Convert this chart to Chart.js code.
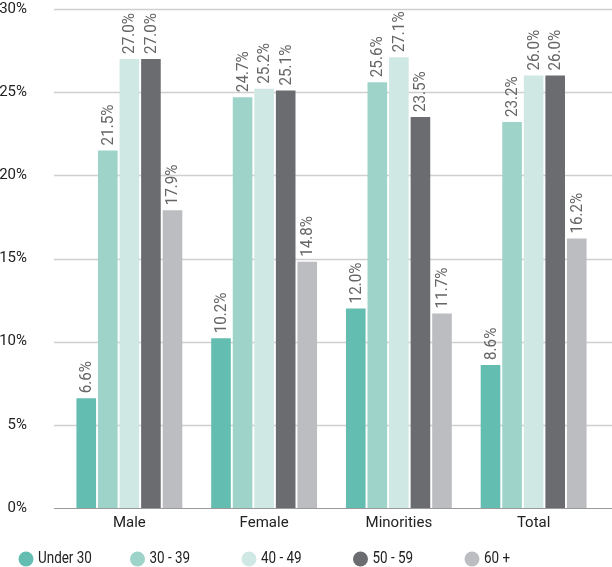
<!DOCTYPE html>
<html>
<head>
<meta charset="utf-8">
<script src="https://cdn.jsdelivr.net/npm/chart.js@4"></script>
<style>
  html, body { margin: 0; padding: 0; background: #fff; }
  #wrap { width: 612px; height: 567px; }
</style>
</head>
<body>
<div id="wrap"><canvas id="myBarChart"></canvas></div>
<script>
const categories = ['Male', 'Female', 'Minorities', 'Total'];
const seriesNames = ['Under 30', '30 - 39', '40 - 49', '50 - 59', '60 +'];
const under30 = [6.6, 10.2, 12.0, 8.6];
const age30to39 = [21.5, 24.7, 25.6, 23.2];
const age40to49 = [27.0, 25.2, 27.1, 26.0];
const age50to59 = [27.0, 25.1, 23.5, 26.0];
const age60plus = [17.9, 14.8, 11.7, 16.2];
const yTicks = [0, 5, 10, 15, 20, 25, 30];

const colors = ['#63bdb0', '#9dd3c8', '#cfe8e3', '#6b6c70', '#bcbdc1'];
const FONT = 'Roboto, sans-serif';

const values = [under30, age30to39, age40to49, age50to59, age60plus];

// grid lines run a bit wider than the bars area
const gridPlugin = {
    id: 'wideGrid',
    beforeDatasetsDraw(chart) {
        const ctx = chart.ctx;
        const y = chart.scales.y;
        ctx.save();
        yTicks.forEach(t => {
            const py = Math.round(y.getPixelForValue(t)) + 0.5;
            ctx.strokeStyle = t === 0 ? '#9a9a9a' : '#cfcfcf';
            ctx.lineWidth = t === 0 ? 1 : 1.5;
            ctx.beginPath();
            ctx.moveTo(54, py);
            ctx.lineTo(chart.width, py);
            ctx.stroke();
        });
        ctx.restore();
    }
};

// value labels, rotated, above each bar
const labelPlugin = {
    id: 'barLabels',
    afterDatasetsDraw(chart) {
        const ctx = chart.ctx;
        ctx.save();
        ctx.font = '16px ' + FONT;
        ctx.fillStyle = '#666666';
        ctx.textAlign = 'left';
        ctx.textBaseline = 'middle';
        chart.data.datasets.forEach((ds, i) => {
            chart.getDatasetMeta(i).data.forEach((bar, j) => {
                ctx.save();
                ctx.translate(bar.x + 1, bar.y - 5);
                ctx.rotate(-Math.PI / 2);
                ctx.scale(0.95, 1);
                ctx.fillText(ds.data[j].toFixed(1) + '%', 0, 0);
                ctx.restore();
            });
        });
        ctx.restore();
    }
};

// legend row along the bottom, circles + narrow text
const legendPlugin = {
    id: 'bottomLegend',
    afterDraw(chart) {
        const ctx = chart.ctx;
        const cy = chart.height - 8;
        ctx.save();
        ctx.font = '16px ' + FONT;
        ctx.textBaseline = 'middle';
        chart.data.datasets.forEach((ds, i) => {
            const cx = 26 + i * 111.5;
            ctx.fillStyle = ds.backgroundColor;
            ctx.beginPath();
            ctx.arc(cx, cy, 7.5, 0, Math.PI * 2);
            ctx.fill();
            ctx.fillStyle = '#222';
            ctx.save();
            ctx.translate(cx + 12, cy);
            ctx.scale(0.84, 1);
            ctx.fillText(ds.label, 0, 0);
            ctx.restore();
        });
        ctx.restore();
    }
};

const data = {
    labels: categories,
    datasets: seriesNames.map((name, i) => ({
        label: name,
        data: values[i],
        backgroundColor: colors[i],
        categoryPercentage: 0.8,
        barPercentage: 0.91
    }))
};

const config = {
    type: 'bar',
    data: data,
    options: {
        responsive: true,
        maintainAspectRatio: false,
        animation: false,
        layout: { padding: { top: 0, right: 11, left: 0, bottom: 29 } },
        scales: {
            x: {
                grid: { display: false, drawTicks: false },
                border: { display: false },
                ticks: { color: '#222', font: { family: FONT, size: 15 }, padding: 6 }
            },
            y: {
                min: 0,
                max: 30,
                afterFit(scale) { scale.width = 62; },
                afterBuildTicks(scale) { scale.ticks = yTicks.map(v => ({ value: v })); },
                grid: { display: false, drawTicks: true, tickLength: 35 },
                border: { display: false },
                ticks: {
                    color: '#222',
                    padding: 0,
                    font: { family: FONT, size: 15 },
                    callback: v => v + '%'
                }
            }
        },
        plugins: {
            legend: { display: false },
            tooltip: { enabled: false }
        }
    },
    plugins: [gridPlugin, labelPlugin, legendPlugin]
};

window.onload = function() {
    const ctx = document.getElementById('myBarChart').getContext('2d');
    new Chart(ctx, config);
};
</script>
</body>
</html>
